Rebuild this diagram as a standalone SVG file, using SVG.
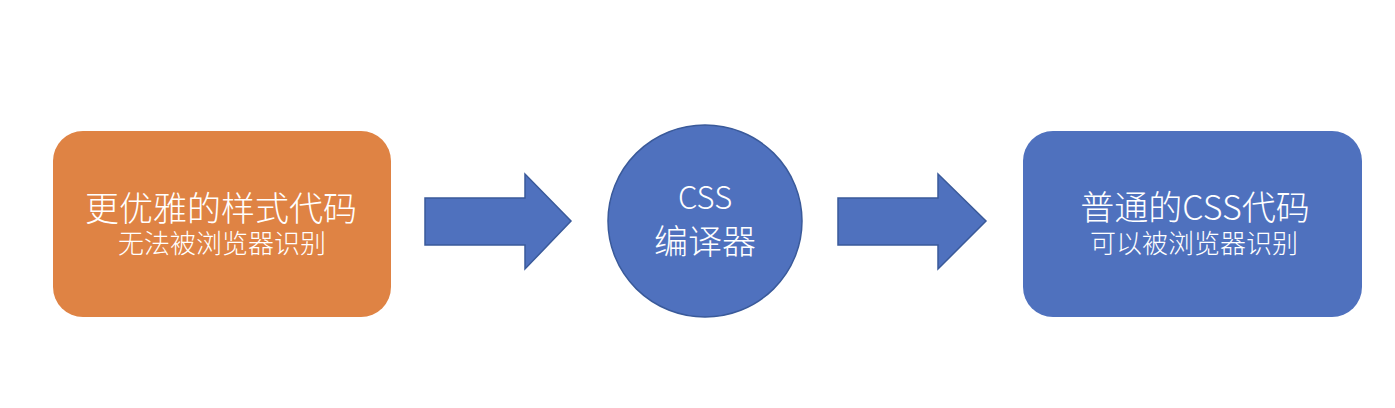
<svg xmlns="http://www.w3.org/2000/svg" width="1395" height="408" viewBox="0 0 1395 408">
<style>
.t{fill:#ffffff;font-family:"Noto Sans CJK SC","Noto Sans",sans-serif;font-weight:300;text-anchor:middle}
.big{font-size:34px}
.small{font-size:26px}
.blue{fill:#4F71BE}
.edge{fill:#4F71BE;stroke:#3A5A9A;stroke-width:1.5}
</style>
<rect width="1395" height="408" fill="#ffffff"/>
<g id="node-source">
<rect x="53" y="131" width="338" height="186" rx="30" fill="#DF8344"/>
<text class="t big" x="221" y="221">更优雅的样式代码</text>
<text class="t small" x="222" y="253">无法被浏览器识别</text>
</g>
<g id="node-compiler">
<ellipse cx="705" cy="221" rx="97" ry="96" class="edge"/>
<text class="t" x="705" y="209" style="font-size:31px">CSS</text>
<text class="t big" x="705" y="254">编译器</text>
</g>
<g id="node-target">
<rect x="1023" y="131" width="339" height="186" rx="30" class="blue"/>
<text class="t big" x="1195" y="220">普通的CSS代码</text>
<text class="t small" x="1194" y="253">可以被浏览器识别</text>
</g>
<g id="connectors">
<polygon class="edge" points="425,198 525,198 525,174 571,221 525,269 525,245 425,245"/>
<polygon class="edge" points="838,198 938,198 938,174 986,221 938,269 938,245 838,245"/>
</g>
</svg>
